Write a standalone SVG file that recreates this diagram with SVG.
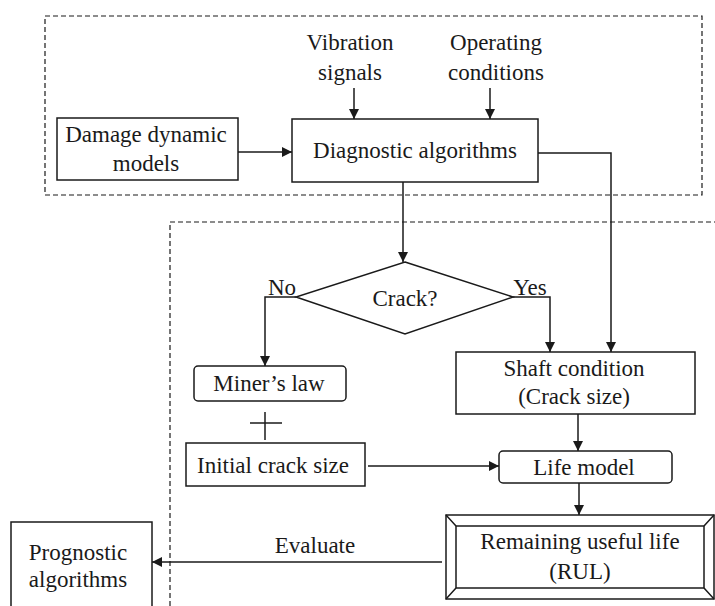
<svg xmlns="http://www.w3.org/2000/svg" width="715" height="606" viewBox="0 0 715 606" font-family="'Liberation Serif', 'DejaVu Serif', 'Times New Roman', Times, serif">
  <style>
    text { font-family: "Liberation Serif", "DejaVu Serif", "Times New Roman", Times, serif; font-size: 23px; fill: #1a1a1a; text-anchor: middle; }
    .box { fill: #fff; stroke: #1a1a1a; stroke-width: 1.5; }
    .dash { fill: none; stroke: #1a1a1a; stroke-width: 1.2; stroke-dasharray: 5 3; }
    .wire { fill: none; stroke: #1a1a1a; stroke-width: 1.5; }
    .arr { fill: none; stroke: #1a1a1a; stroke-width: 1.5; marker-end: url(#head); }
  </style>
  <defs>
    <marker id="head" viewBox="0 0 10 10" refX="10" refY="5" markerWidth="10" markerHeight="10" markerUnits="userSpaceOnUse" orient="auto">
      <path d="M0,0 L10,5 L0,10 z" fill="#1a1a1a"/>
    </marker>
  </defs>
  <rect width="715" height="606" fill="#fff"/>

  <!-- region outlines -->
  <g id="regions">
    <rect class="dash" x="45" y="16" width="657" height="179"/>
    <path class="dash" d="M170,606 L170,222 L715,222"/>
  </g>

  <!-- connectors -->
  <g id="connectors">
    <line class="arr" x1="354" y1="88" x2="354" y2="119"/>
    <line class="arr" x1="490" y1="88" x2="490" y2="119"/>
    <line class="arr" x1="238" y1="152" x2="292" y2="152"/>
    <line class="arr" x1="403" y1="182" x2="403" y2="262"/>
    <polyline class="arr" points="538,153 611,153 611,352"/>
    <polyline class="arr" points="296,297 265,297 265,366"/>
    <polyline class="arr" points="513,297 550,297 550,352"/>
    <line class="arr" x1="578" y1="414" x2="578" y2="451"/>
    <line class="arr" x1="368" y1="466" x2="499" y2="466"/>
    <line class="arr" x1="579" y1="483" x2="579" y2="515"/>
    <line class="arr" x1="442" y1="562" x2="152" y2="562"/>
    <text x="315" y="553">Evaluate</text>
    <text x="282" y="295">No</text>
    <text x="530" y="295">Yes</text>
  </g>

  <g id="vibration">
    <text x="350" y="50">Vibration</text>
    <text x="350" y="80">signals</text>
  </g>
  <g id="operating">
    <text x="496" y="50">Operating</text>
    <text x="496" y="80">conditions</text>
  </g>

  <g id="damage-models">
    <rect class="box" x="57" y="118" width="181" height="62"/>
    <text x="146" y="142">Damage dynamic</text>
    <text x="146" y="171">models</text>
  </g>

  <g id="diagnostic">
    <rect class="box" x="292" y="119" width="246" height="63"/>
    <text x="415" y="158">Diagnostic algorithms</text>
  </g>

  <g id="crack-decision">
    <polygon class="box" points="405,262 513,297 405,334 296,297"/>
    <text x="405" y="306">Crack?</text>
  </g>

  <g id="miners-law">
    <rect class="box" x="194" y="366" width="152" height="35" rx="4"/>
    <text x="269" y="391">Miner’s law</text>
  </g>

  <g id="plus">
    <line class="wire" x1="265" y1="412" x2="265" y2="440" stroke-width="2"/>
    <line class="wire" x1="250" y1="423" x2="282" y2="423" stroke-width="2"/>
  </g>

  <g id="initial-crack">
    <rect class="box" x="186" y="443" width="179" height="43"/>
    <text x="273" y="473">Initial crack size</text>
  </g>

  <g id="shaft-condition">
    <rect class="box" x="456" y="352" width="239" height="62"/>
    <text x="574" y="376">Shaft condition</text>
    <text x="574" y="404">(Crack size)</text>
  </g>

  <g id="life-model">
    <rect class="box" x="499" y="451" width="173" height="32" rx="4"/>
    <text x="584" y="475">Life model</text>
  </g>

  <g id="rul">
    <rect class="box" x="446" y="515" width="268" height="84"/>
    <rect class="box" x="456" y="526" width="248" height="62"/>
    <path class="wire" d="M446,515 L456,526 M714,515 L704,526 M446,599 L456,588 M714,599 L704,588"/>
    <text x="580" y="549">Remaining useful life</text>
    <text x="580" y="579">(RUL)</text>
  </g>

  <g id="prognostic">
    <rect class="box" x="11" y="522" width="141" height="90"/>
    <text x="78" y="560">Prognostic</text>
    <text x="78" y="587">algorithms</text>
  </g>
</svg>
